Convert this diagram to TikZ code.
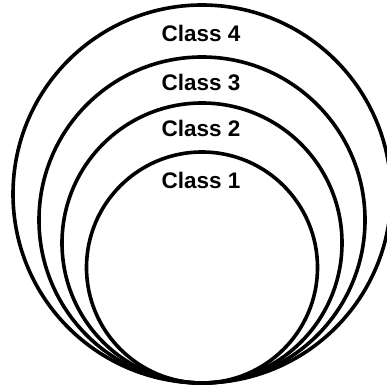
\documentclass[tikz,border=0pt]{standalone}
\usepackage{fontspec}
\setmainfont{Liberation Sans}
\usetikzlibrary{positioning}

\begin{document}
\begin{tikzpicture}[
    x=1pt, y=1pt,
    ring/.style={circle, draw=black, line width=3.6pt, inner sep=0pt},
    label/.style={font=\fontsize{22.5}{26}\selectfont\bfseries}
]

\useasboundingbox (0,0) rectangle (386,387);

% Nested classes, all touching at the bottom
\node[ring, minimum size=378pt] (class4) at (202,193) {};
\node[ring, minimum size=326pt] (class3) at (202,167) {};
\node[ring, minimum size=280pt] (class2) at (202,144) {};
\node[ring, minimum size=231pt] (class1) at (202,119.5) {};

% Labels
\node[label] (lab4) at (201,354) {Class 4};
\node[label] (lab3) at (201,305) {Class 3};
\node[label] (lab2) at (201,259) {Class 2};
\node[label] (lab1) at (201,207) {Class 1};

\end{tikzpicture}
\end{document}
